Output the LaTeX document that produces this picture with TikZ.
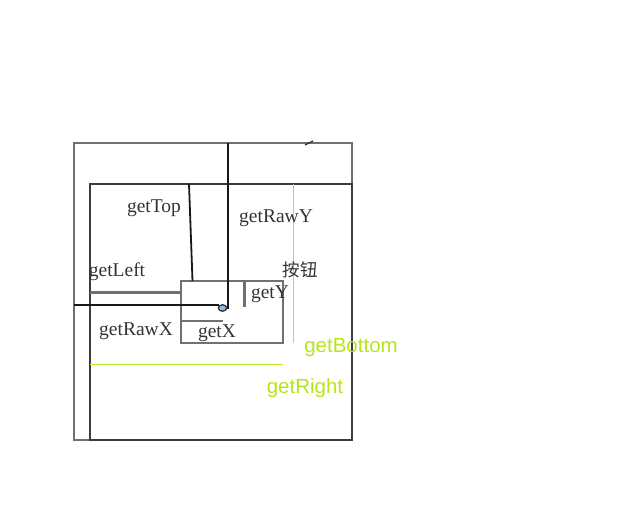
\documentclass[tikz,border=0pt]{standalone}
\usepackage{fontspec}
\setmainfont{Liberation Serif}
\newfontfamily\greenfont{Liberation Sans}
\newfontfamily\cjk{Noto Sans CJK SC}
\definecolor{linegray}{RGB}{112,112,112}
\definecolor{framegray}{RGB}{60,60,60}
\definecolor{limegreen}{RGB}{181,230,29}
\definecolor{dotblue}{RGB}{140,190,240}
\tikzset{
    graylabel/.style={font=\fontsize{19.5}{19.5}\selectfont, text=black!80, inner sep=0pt},
    greenlabel/.style={font=\greenfont\fontsize{20.5}{20.5}\selectfont, text=limegreen, inner sep=0pt},
    measure/.style={line width=1.8pt, black!90},
}
\begin{document}
\begin{tikzpicture}[x=1pt,y=-1pt]
    \useasboundingbox (0,0) rectangle (617,518);
    % Screen and parent view:
    \draw[linegray, line width=2.2pt] (74,143) rectangle (352,440);
    \draw[framegray, line width=2.8pt] (90,184) rectangle (352,440);
    \draw[black!80, line width=1.3pt] (305,145) -- (313,141);

    % Button:
    \coordinate (btnNW) at (181,281);
    \coordinate (btnSE) at (283,343);
    \draw[linegray, line width=2.2pt] (btnNW) rectangle (btnSE);

    % Touch point and raw distances:
    \coordinate (touch) at (222.5,308);
    \draw[measure] (228,143) -- (228,309);
    \draw[measure] (74,305) -- (219,305);
    \draw[framegray, fill=dotblue, line width=1.4pt] (touch) ellipse (4.2pt and 3.2pt);

    % Distances of the button in its parent:
    \draw[measure] (189,184) -- (192.5,281);
    \draw[linegray, line width=2.4pt] (90,292.5) -- (181,292.5);
    \draw[linegray, line width=2.4pt] (181,321) -- (222.5,321);
    \draw[linegray, line width=3.4pt] (244.5,282) -- (244.5,307);
    \draw[limegreen, line width=1.5pt] (293.5,184) -- (293.5,343);
    \draw[limegreen, line width=1.5pt] (90,364.5) -- (283,364.5);

    % Labels:
    \node[graylabel] (top)    at (154,208) {getTop};
    \node[graylabel] (rawy)   at (276,218) {getRawY};
    \node[graylabel] (left)   at (117,272) {getLeft};
    \node[graylabel, font=\cjk\fontsize{17.5}{17.5}\selectfont] (button) at (300,270) {按钮};
    \node[graylabel] (gety)   at (270,294) {getY};
    \node[graylabel] (rawx)   at (136,331) {getRawX};
    \node[graylabel] (getx)   at (217,333) {getX};
    \node[greenlabel] (bottom) at (351,348) {getBottom};
    \node[greenlabel] (right)  at (305,388) {getRight};
\end{tikzpicture}
\end{document}
